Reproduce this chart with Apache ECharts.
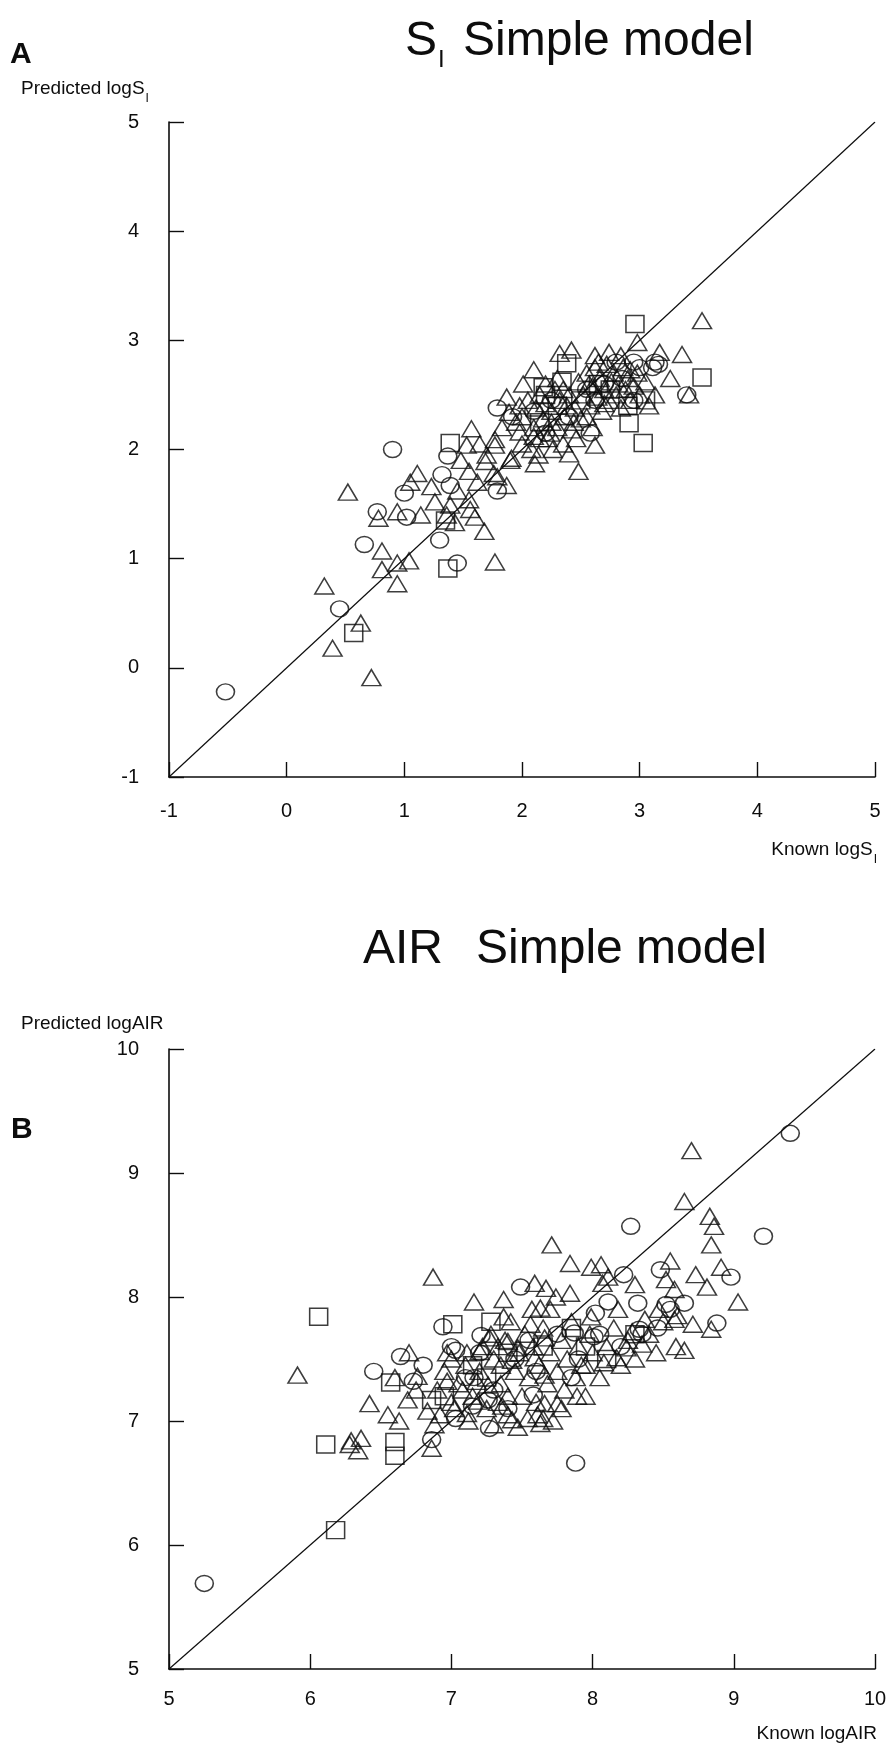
<!DOCTYPE html>
<html>
<head>
<meta charset="utf-8">
<script src="https://cdn.jsdelivr.net/npm/echarts@6/dist/echarts.min.js"></script>
<style>
html,body{margin:0;padding:0;background:#ffffff;}
#chart{width:887px;height:1748px;}
</style>
</head>
<body>
<div id="chart"></div>
<script>
// ---------------- DATA ----------------
// Panel A : Known logS_I (x) vs Predicted logS_I (y)
const aRange = [-1, 5];
const aCircles = [
  [-0.52,-0.22],[0.45,0.54],[0.66,1.13],[0.77,1.43],[1.02,1.38],[1.0,1.6],[0.9,2.0],
  [1.30,1.17],[1.32,1.77],[1.39,1.67],[1.37,1.94],[1.45,0.96],[1.79,1.62],[1.79,2.38],
  [2.58,2.15],[3.13,2.80],[3.11,2.75],[3.40,2.50],[2.95,2.80],
  [2.10,2.35],[2.25,2.45],[2.40,2.30],[2.55,2.55],[2.70,2.60],[2.85,2.65],[3.00,2.75],
  [2.20,2.15],[2.80,2.80],[2.95,2.45],[1.92,2.30],[2.62,2.45],[3.16,2.78]
];
const aTriangles = [
  [0.72,-0.09],[0.39,0.18],[0.63,0.41],[0.32,0.75],[0.94,0.77],[0.81,0.90],[0.94,0.96],
  [1.04,0.98],[1.77,0.97],[0.81,1.07],[1.68,1.25],[1.60,1.38],[0.78,1.37],[0.94,1.43],
  [1.14,1.40],[1.26,1.52],[1.36,1.40],[1.43,1.33],[1.39,1.49],[1.23,1.66],[1.05,1.70],
  [1.11,1.78],[0.52,1.61],[1.55,1.80],[1.56,1.45],[1.87,1.67],[1.76,1.78],[1.53,2.04],
  [1.69,1.89],[1.77,2.04],[1.90,1.90],[2.98,2.98],[3.53,3.18],[3.36,2.87],[3.26,2.65],
  [3.17,2.89],[3.42,2.50],[3.13,2.50],[2.62,2.04],[2.48,1.80],[2.10,2.73],[2.32,2.88],
  [2.42,2.91],[2.62,2.86],[2.74,2.89],[2.84,2.86],[2.92,2.73],[1.87,2.48],[1.57,2.19],
  [1.77,2.09],[1.91,1.92],[1.79,1.75],[1.55,1.54],[2.11,1.87],[2.40,1.96],[2.24,2.15],
  [2.01,2.60],[1.89,2.34],[1.98,2.16],[2.10,2.12],
  [2.00,2.30],[2.05,2.45],[2.10,2.20],[2.12,2.38],[2.15,2.50],[2.18,2.28],[2.20,2.42],
  [2.22,2.10],[2.25,2.35],[2.28,2.55],[2.30,2.20],[2.32,2.45],[2.35,2.05],[2.36,2.30],
  [2.40,2.50],[2.42,2.18],[2.45,2.38],[2.48,2.62],[2.50,2.28],[2.52,2.50],[2.55,2.70],
  [2.58,2.40],[2.60,2.58],[2.62,2.75],[2.64,2.48],[2.66,2.65],[2.68,2.35],[2.70,2.55],
  [2.72,2.78],[2.74,2.45],[2.76,2.62],[2.78,2.70],[2.80,2.50],[2.82,2.60],[2.84,2.38],
  [2.86,2.75],[2.88,2.55],[2.90,2.65],[2.92,2.45],[2.95,2.58],[2.98,2.70],[3.00,2.50],
  [3.05,2.62],[3.08,2.40],[2.00,2.05],[1.95,2.25],[1.98,2.40],[2.08,2.00],[2.14,1.95],
  [2.20,2.60],[2.26,2.00],[2.30,2.65],[2.38,2.40],[2.44,2.25],[2.46,2.10],[2.55,2.30],
  [2.60,2.20],[2.65,2.80],[2.70,2.42],[2.57,2.60],[2.25,2.25],[2.15,2.10],[2.35,2.55],
  [1.45,1.62],[1.62,1.70],[1.70,1.95],[1.83,2.20],[1.64,2.05],[1.48,1.90]
];
const aSquares = [
  [0.57,0.32],[1.37,0.91],[1.35,1.35],[1.39,2.06],[2.18,2.57],[2.34,2.62],[2.38,2.79],
  [2.91,2.24],[3.03,2.06],[2.96,3.15],[3.53,2.66],
  [2.30,2.40],[2.50,2.45],[2.75,2.55],[2.90,2.40],[2.65,2.60],[2.15,2.25],[3.05,2.45],[2.20,2.50]
];
const aDiagonal = [[-1,-1],[5,5]];

// Panel B : Known logAIR (x) vs Predicted logAIR (y)
const bRange = [5, 10];
const bCircles = [
  [5.25,5.69],[6.45,7.40],[6.86,6.85],[6.64,7.52],[6.73,7.32],[6.94,7.76],[7.21,7.69],
  [7.03,7.57],[7.16,7.35],[7.26,7.17],[7.03,7.02],[7.27,6.94],[7.58,7.21],[7.49,8.08],
  [7.88,6.66],[8.27,8.57],[9.21,8.49],[9.40,9.32],[8.22,8.18],[8.48,8.22],[8.98,8.16],
  [8.65,7.95],[8.52,7.94],[8.32,7.95],[8.88,7.79],[8.46,7.75],[8.33,7.74],[8.11,7.96],
  [8.02,7.87],[7.87,7.71],[8.01,7.68],
  [7.10,7.35],[7.30,7.25],[7.45,7.50],[7.60,7.40],[7.75,7.70],[7.90,7.50],[8.05,7.70],
  [8.20,7.60],[7.20,7.55],[7.55,7.65],[7.40,7.10],[7.85,7.35],[8.35,7.70],[8.55,7.90],[7.00,7.60],
  [6.80,7.45],[7.15,7.12]
];
const bTriangles = [
  [5.91,7.37],[6.29,6.84],[6.36,6.86],[6.28,6.81],[6.34,6.76],[6.42,7.14],[6.55,7.05],
  [6.63,7.00],[6.69,7.17],[6.70,7.55],[6.76,7.36],[6.83,7.08],[6.88,6.97],[6.86,6.78],
  [6.87,8.16],[7.16,7.96],[7.37,7.98],[7.37,7.84],[7.59,8.11],[7.71,8.42],
  [6.97,7.55],[7.11,7.55],[7.20,7.56],[7.27,7.67],[7.33,7.60],[7.40,7.64],[7.47,7.59],
  [7.56,7.78],[7.63,7.91],[7.66,7.67],[6.97,7.32],[7.26,7.29],[7.35,7.45],[7.43,7.49],
  [7.59,7.51],[7.19,7.16],[7.40,7.20],[7.02,7.10],[7.11,7.06],[7.30,6.97],[7.43,7.01],
  [7.54,7.02],[7.61,7.05],[7.66,7.14],[7.66,7.37],
  [8.86,8.57],[8.84,8.42],[8.83,8.65],[8.70,9.18],[8.65,8.77],[7.84,8.27],[7.99,8.24],
  [8.06,8.26],[8.11,8.16],[8.07,8.11],[8.30,8.10],[8.55,8.29],[8.52,8.14],[8.73,8.18],
  [8.91,8.24],[8.81,8.08],[9.03,7.96],[8.58,8.06],[8.47,7.90],[8.58,7.82],[8.71,7.78],
  [8.84,7.74],[8.59,7.60],[8.65,7.57],[8.37,7.82],[8.28,7.72],[8.24,7.59],[8.18,7.90],
  [8.17,7.51],[8.08,7.47],[7.99,7.84],[7.84,8.03],[7.74,8.00],[7.67,8.07],[7.95,7.20],
  [7.89,7.20],[7.75,7.14],[7.65,7.02],[7.92,7.45],
  [7.00,7.50],[7.05,7.30],[7.10,7.45],[7.15,7.20],[7.20,7.40],[7.22,7.60],[7.25,7.10],
  [7.30,7.50],[7.35,7.30],[7.38,7.65],[7.40,7.05],[7.45,7.40],[7.48,7.55],[7.50,7.20],
  [7.52,7.70],[7.55,7.35],[7.58,7.60],[7.60,7.15],[7.62,7.45],[7.65,7.75],[7.68,7.30],
  [7.70,7.55],[7.72,7.00],[7.75,7.40],[7.78,7.65],[7.80,7.25],[7.82,7.50],[7.85,7.80],
  [7.88,7.35],[7.90,7.60],[7.95,7.45],[7.98,7.70],[8.00,7.55],[8.05,7.35],[8.10,7.60],
  [8.15,7.75],[8.20,7.45],[8.25,7.65],[8.30,7.50],[6.90,7.25],[6.95,7.40],[7.00,7.15],
  [7.12,7.00],[7.28,7.70],[7.42,7.80],[7.57,7.90],[7.33,7.15],[7.47,6.95],[7.63,6.98],
  [7.78,7.10],[7.70,7.90],[8.40,7.70],[8.50,7.80],[8.60,7.85],[8.35,7.62],[8.45,7.55],
  [6.75,7.25],[6.60,7.35],[6.92,7.05],[7.08,7.25],[7.18,7.32],[7.36,7.12]
];
const bSquares = [
  [6.06,7.84],[6.11,6.81],[6.18,6.12],[6.60,6.83],[6.60,6.72],[6.57,7.31],[6.86,7.17],
  [7.01,7.78],[7.28,7.80],
  [7.15,7.45],[7.40,7.55],[7.65,7.60],[7.95,7.60],[8.10,7.50],[7.25,7.35],[6.95,7.20],[7.85,7.75],[8.30,7.70]
];
const bDiagonal = [[5,5],[10,10]];

// Text
const titleA = {main: 'S', sub: 'I', rest: 'Simple model'};
const titleB = {main: 'AIR', rest: 'Simple model'};
const yNameA = {main: 'Predicted logS', sub: 'I'};
const xNameA = {main: 'Known logS', sub: 'I'};
const yNameB = 'Predicted logAIR';
const xNameB = 'Known logAIR';

// ---------------- RENDER ----------------
const FONT = '"Liberation Sans", Arial, Helvetica, sans-serif';
const INK = '#0d0d0d';
const mctx = document.createElement('canvas').getContext('2d');
function tw(str, size, bold) { mctx.font = (bold ? 'bold ' : '') + size + 'px ' + FONT; return mctx.measureText(str).width; }
function txt(x, y, str, size, bold, align) {
  return {type: 'text', x: x, y: y, silent: true, z: 100,
    style: {text: str, font: (bold ? 'bold ' : '') + size + 'px ' + FONT, fill: INK,
      textAlign: align || 'left', align: align || 'left', textVerticalAlign: 'middle', verticalAlign: 'middle'}};
}

const graphics = [];
// panel letters
graphics.push(txt(10, 55, 'A', 30, true));
graphics.push(txt(11, 1130, 'B', 30, true));
// title A
(function(){
  const size = 48, x0 = 405, ym = 42;
  const wS = tw(titleA.main, size);
  graphics.push(txt(x0, ym, titleA.main, size));
  graphics.push(txt(x0 + wS + 1, ym + 18, titleA.sub, 24));
  graphics.push(txt(x0 + wS + 26, ym, titleA.rest, size));
})();
// title B
(function(){
  const size = 48, x0 = 363, ym = 950;
  const w = tw(titleB.main, size);
  graphics.push(txt(x0, ym, titleB.main, size));
  graphics.push(txt(x0 + w + 33, ym, titleB.rest, size));
})();
// y name A
(function(){
  const size = 19, x0 = 21, ym = 89;
  const w = tw(yNameA.main, size);
  graphics.push(txt(x0, ym, yNameA.main, size));
  graphics.push(txt(x0 + w + 1, ym + 10, yNameA.sub, 12));
})();
// x name A (right aligned)
(function(){
  const size = 19, right = 877, ym = 850;
  const wSub = tw(xNameA.sub, 12);
  const w = tw(xNameA.main, size);
  const x0 = right - wSub - 1 - w;
  graphics.push(txt(x0, ym, xNameA.main, size));
  graphics.push(txt(x0 + w + 1, ym + 10, xNameA.sub, 12));
})();
graphics.push(txt(21, 1024, yNameB, 19));
graphics.push(txt(877, 1734, xNameB, 19, false, 'right'));

function axisCommon(min, max, margin, fs) {
  return {
    type: 'value', min: min, max: max, interval: 1,
    axisLine: {show: true, onZero: false, lineStyle: {color: INK, width: 1.6}},
    axisTick: {show: true, inside: true, length: 15, lineStyle: {color: INK, width: 1.4}},
    axisLabel: {show: true, margin: margin, fontSize: fs, color: INK, fontFamily: FONT, showMinLabel: true, showMaxLabel: true},
    splitLine: {show: false}
  };
}
function marker(data, symbol, size, xi) {
  return {type: 'scatter', xAxisIndex: xi, yAxisIndex: xi, data: data, symbol: symbol, symbolSize: size,
    silent: true, z: 3,
    itemStyle: {color: 'rgba(0,0,0,0)', borderColor: INK, borderWidth: 1.5}};
}
function diag(data, xi) {
  return {type: 'line', xAxisIndex: xi, yAxisIndex: xi, data: data, symbol: 'none', silent: true, z: 2,
    lineStyle: {color: INK, width: 1.2}};
}

const chart = echarts.init(document.getElementById('chart'), null, {renderer: 'canvas'});
chart.setOption({
  animation: false,
  backgroundColor: '#ffffff',
  grid: [
    {left: 169, top: 122, width: 706, height: 655, outerBoundsMode: 'none', containLabel: false},
    {left: 169, top: 1049, width: 706, height: 620, outerBoundsMode: 'none', containLabel: false}
  ],
  xAxis: [
    Object.assign(axisCommon(aRange[0], aRange[1], 24, 20), {gridIndex: 0}),
    Object.assign(axisCommon(bRange[0], bRange[1], 20, 20), {gridIndex: 1})
  ],
  yAxis: [
    Object.assign(axisCommon(aRange[0], aRange[1], 30, 20), {gridIndex: 0}),
    Object.assign(axisCommon(bRange[0], bRange[1], 30, 20), {gridIndex: 1})
  ],
  series: [
    diag(aDiagonal, 0),
    marker(aCircles, 'circle', [18, 16], 0),
    marker(aTriangles, 'triangle', [19, 16], 0),
    marker(aSquares, 'rect', [18, 17], 0),
    diag(bDiagonal, 1),
    marker(bCircles, 'circle', [18, 16], 1),
    marker(bTriangles, 'triangle', [19, 16], 1),
    marker(bSquares, 'rect', [18, 17], 1)
  ],
  graphic: graphics
});
</script>
</body>
</html>
